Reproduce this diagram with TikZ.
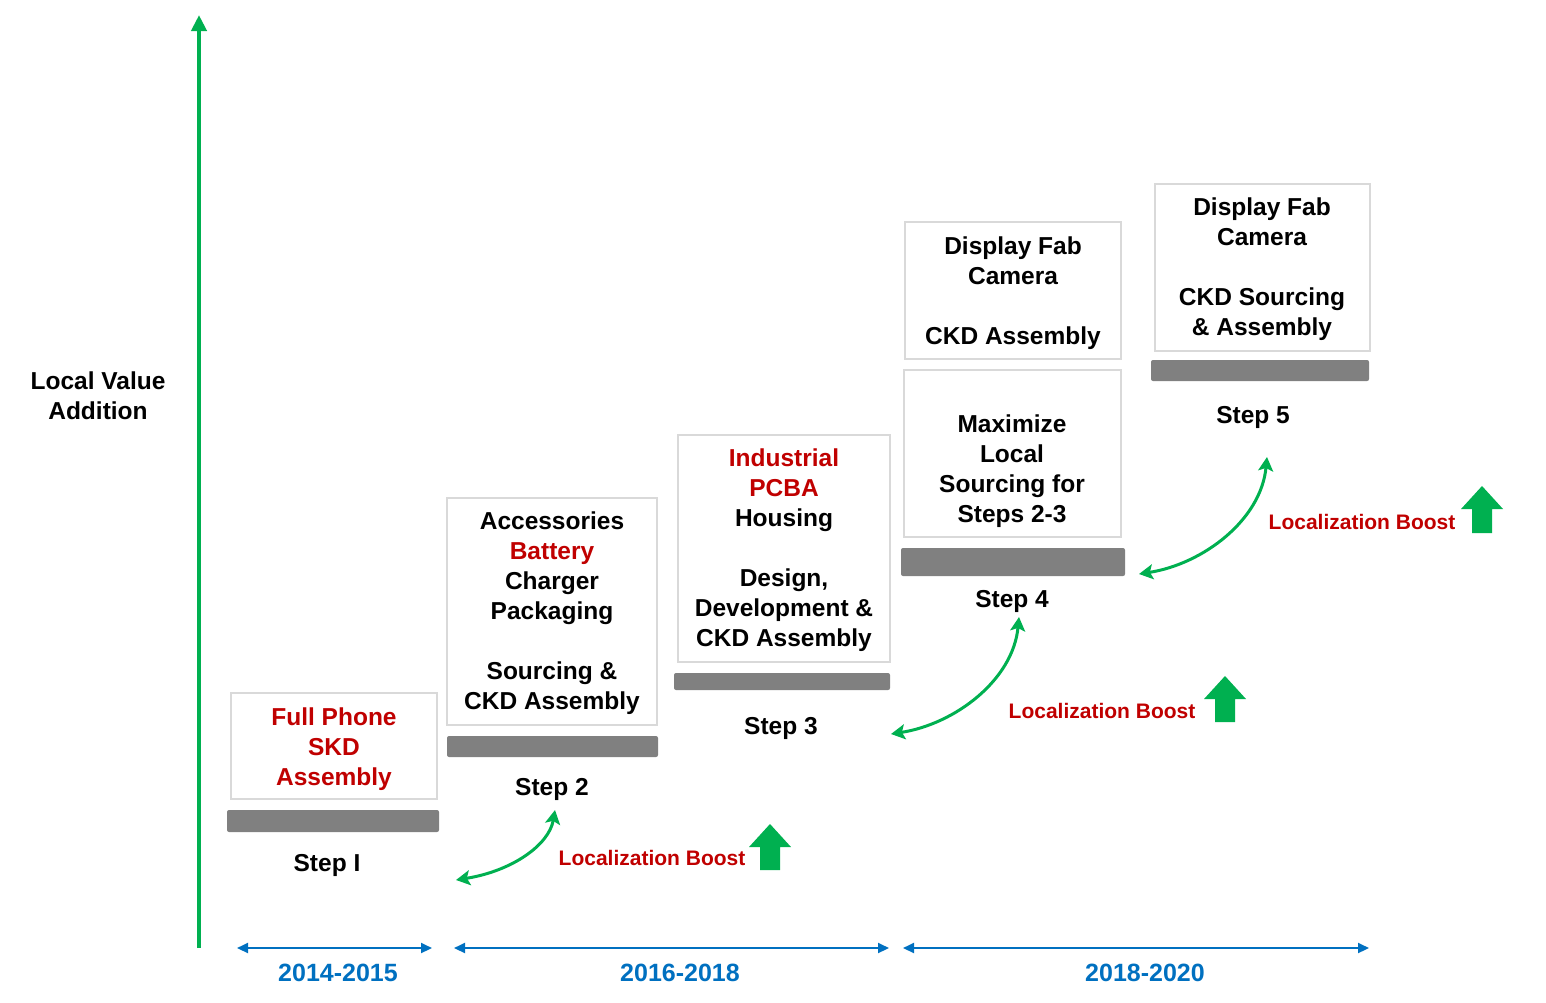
\documentclass[tikz,border=0pt]{standalone}
\usepackage{fontspec}
\setmainfont{Liberation Sans}
\usetikzlibrary{arrows.meta}
\definecolor{dgreen}{RGB}{0,176,80}
\definecolor{dblue}{RGB}{0,112,192}
\definecolor{dred}{RGB}{192,0,0}
\definecolor{boxgray}{RGB}{217,217,217}
\definecolor{bargray}{RGB}{128,128,128}
\begin{document}
\begin{tikzpicture}[x=1pt,y=-1pt,
  txt/.style={font=\fontsize{24.5}{30}\selectfont\bfseries, align=center, inner sep=0pt, yshift=-3pt},
  stepbox/.style={draw=boxgray, line width=2pt, fill=white, inner sep=0pt},
  barstyle/.style={fill=bargray, rounded corners=2pt},
  boost/.style={font=\fontsize{21}{24}\selectfont\bfseries, text=dred, inner sep=0pt, yshift=-1pt},
  yrs/.style={font=\fontsize{25}{28}\selectfont\bfseries, text=dblue, inner sep=0pt, yshift=-1pt},
  tl/.style={draw=dblue, line width=2pt, {Triangle[length=11pt,width=10pt]}-{Triangle[length=11pt,width=10pt]}},
  curv/.style={draw=dgreen, line width=3pt, {Triangle[length=14pt,width=15pt,inset=3pt]}-{Triangle[length=14pt,width=15pt,inset=3pt]}},
  blockarrow/.style={fill=dgreen}
]
\useasboundingbox (0,0) rectangle (1546,1002);

% y axis
\coordinate (ybot) at (199,948);
\coordinate (ytop) at (199,15);
\draw[dgreen, line width=4pt, -{Triangle[length=16pt,width=15pt]}] (ybot) -- (ytop);
\node[txt] (lva) at (98,393) {Local Value\\Addition};

% step 1
\node[stepbox, minimum width=206pt, minimum height=106pt] (b1) at (334,746) {};
\node[txt, text=dred] (b1t) at (334,746) {Full Phone\\SKD\\Assembly};
\fill[barstyle] (227,810) rectangle (439,832);
\node[txt] (s1) at (327,862) {Step I};

% step 2
\node[stepbox, minimum width=210pt, minimum height=227pt] (b2) at (552,611.5) {};
\node[txt] (b2t) at (552,610) {Accessories\\\textcolor{dred}{Battery}\\Charger\\Packaging\\[30pt]Sourcing \&\\CKD Assembly};
\fill[barstyle] (447,736) rectangle (658,757);
\node[txt] (s2) at (552,786) {Step 2};

% step 3
\node[stepbox, minimum width=212pt, minimum height=227pt] (b3) at (784,548.5) {};
\node[txt] (b3t) at (784,547) {\textcolor{dred}{Industrial}\\\textcolor{dred}{PCBA}\\Housing\\[30pt]Design,\\Development \&\\CKD Assembly};
\fill[barstyle] (674,673) rectangle (890,690);
\node[txt] (s3) at (781,725) {Step 3};

% step 4
\node[stepbox, minimum width=216pt, minimum height=137pt] (b4u) at (1013,290.5) {};
\node[txt] (b4ut) at (1013,290) {Display Fab\\Camera\\[30pt]CKD Assembly};
\node[stepbox, minimum width=217pt, minimum height=167pt] (b4l) at (1012,453.5) {};
\node[txt] (b4lt) at (1012,468) {Maximize\\Local\\Sourcing for\\Steps 2-3};
\fill[barstyle] (901,548) rectangle (1125,576);
\node[txt] (s4) at (1012,598) {Step 4};

% step 5
\node[stepbox, minimum width=215pt, minimum height=167pt] (b5) at (1262,267.5) {};
\node[txt] (b5t) at (1262,266) {Display Fab\\Camera\\[30pt]CKD Sourcing\\\& Assembly};
\fill[barstyle] (1151,360) rectangle (1369,381);
\node[txt] (s5) at (1253,414) {Step 5};

% curved arrows
\coordinate (c1a) at (456,880); \coordinate (c1b) at (555,810);
\draw[curv] (c1a) .. controls (512,871) and (549,845) .. (c1b);
\coordinate (c2a) at (891,734); \coordinate (c2b) at (1019,617);
\draw[curv] (c2a) .. controls (955,724) and (1013,680) .. (c2b);
\coordinate (c3a) at (1139,574); \coordinate (c3b) at (1267,457);
\draw[curv] (c3a) .. controls (1203,564) and (1261,520) .. (c3b);

% boost labels
\node[boost] (lb1) at (652,857) {Localization Boost};
\node[boost] (lb2) at (1102,710) {Localization Boost};
\node[boost] (lb3) at (1362,521) {Localization Boost};

% block arrows
\fill[blockarrow] (770,824) -- (791,847) -- (780,847) -- (780,870) -- (760,870) -- (760,847) -- (749,847) -- cycle;
\fill[blockarrow] (1225,676) -- (1246,699) -- (1235,699) -- (1235,722) -- (1215,722) -- (1215,699) -- (1204,699) -- cycle;
\fill[blockarrow] (1482,486) -- (1503,509) -- (1492,509) -- (1492,533) -- (1472,533) -- (1472,509) -- (1461,509) -- cycle;

% timeline
\coordinate (t1a) at (237,948); \coordinate (t1b) at (432,948);
\coordinate (t2a) at (454,948); \coordinate (t2b) at (889,948);
\coordinate (t3a) at (903,948); \coordinate (t3b) at (1369,948);
\draw[tl] (t1a) -- (t1b);
\draw[tl] (t2a) -- (t2b);
\draw[tl] (t3a) -- (t3b);
\node[yrs] (y1) at (338,972) {2014-2015};
\node[yrs] (y2) at (680,972) {2016-2018};
\node[yrs] (y3) at (1145,972) {2018-2020};
\end{tikzpicture}
\end{document}
